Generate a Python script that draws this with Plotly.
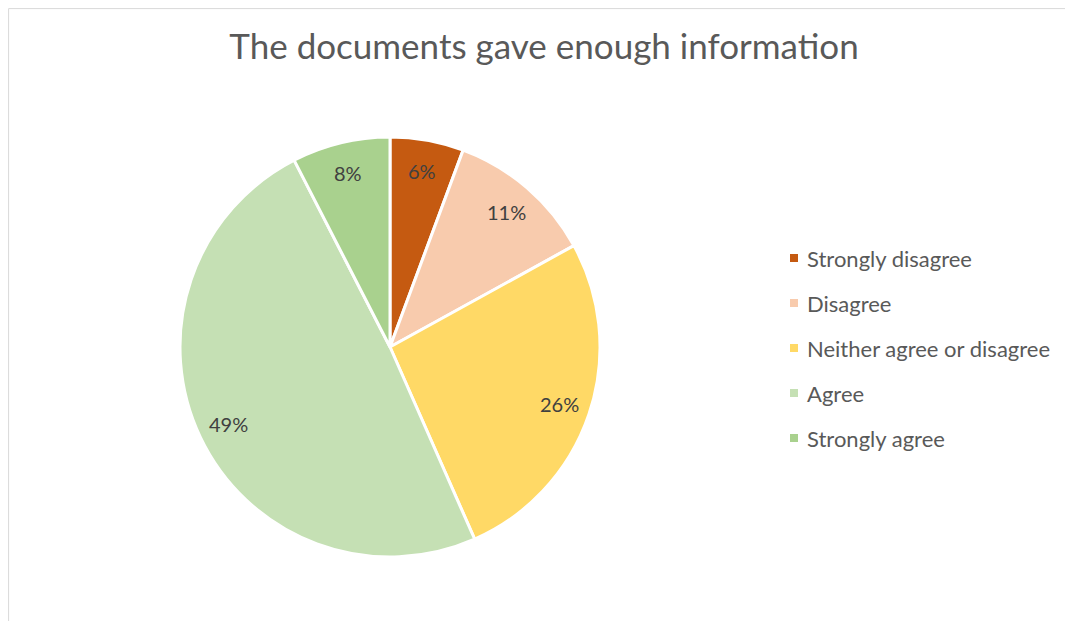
import math
import plotly.graph_objects as go

# Data
categories = ["Strongly disagree", "Disagree", "Neither agree or disagree", "Agree", "Strongly agree"]
counts = [3, 6, 14, 26, 4]
colors = ["#C55A11", "#F8CBAD", "#FFD966", "#C5E0B4", "#A9D18E"]
title_text = "The documents gave enough information"

W, H = 1073, 621
OFF = 8  # page offset of the figure in the screenshot
FONT = "Lato"


def px(x):
    return (x - OFF) / W


def py(y):
    return 1 - (y - OFF) / H


CX, CY, R = 390, 347, 210

fig = go.Figure()
fig.add_trace(go.Pie(
    labels=categories,
    values=counts,
    sort=False,
    direction="clockwise",
    rotation=0,
    marker=dict(colors=colors, line=dict(color="white", width=3)),
    textinfo="none",
    showlegend=False,
    hoverinfo="label+percent",
    domain=dict(x=[px(CX - R), px(CX + R)], y=[py(CY + R), py(CY - R)]),
))

# Data labels placed along each slice's mid-angle (Excel style)
total = sum(counts)
cum = 0
for v in counts:
    mid = (cum + v / 2) / total * 2 * math.pi
    cum += v
    lx = CX + 0.85 * R * math.sin(mid)
    ly = CY - 0.85 * R * math.cos(mid)
    fig.add_annotation(x=px(lx), y=py(ly), xref="paper", yref="paper",
                       text=f"{round(100 * v / total)}%", showarrow=False,
                       xanchor="center", yanchor="middle",
                       font=dict(family=FONT, size=20, color="#404040"))

# Manual legend built from the category/color arrays
legend_top = 258
legend_gap = 45
for i, (lab, col) in enumerate(zip(categories, colors)):
    yc = legend_top + i * legend_gap
    fig.add_shape(type="rect", xref="paper", yref="paper",
                  x0=px(790), x1=px(798),
                  y0=py(yc + 4), y1=py(yc - 4),
                  fillcolor=col, line=dict(width=0))
    fig.add_annotation(x=px(805), y=py(yc), xref="paper", yref="paper",
                       text=lab, showarrow=False, xanchor="left", yanchor="middle",
                       font=dict(family=FONT, size=22, color="#595959"))

# Chart border (as close to the page edge as the figure allows)
fig.add_shape(type="rect", xref="paper", yref="paper",
              x0=0.6 / W, x1=1.05, y0=-0.05, y1=1 - 0.6 / H,
              line=dict(color="#D9D9D9", width=1), fillcolor="rgba(0,0,0,0)")

fig.update_layout(
    width=W, height=H,
    margin=dict(l=0, r=0, t=0, b=0),
    paper_bgcolor="white",
    plot_bgcolor="white",
    title=dict(text=title_text, x=px(544), xanchor="center",
               y=py(47), yanchor="middle",
               font=dict(family=FONT, size=35, color="#595959")),
)

fig.write_html("out.html")
